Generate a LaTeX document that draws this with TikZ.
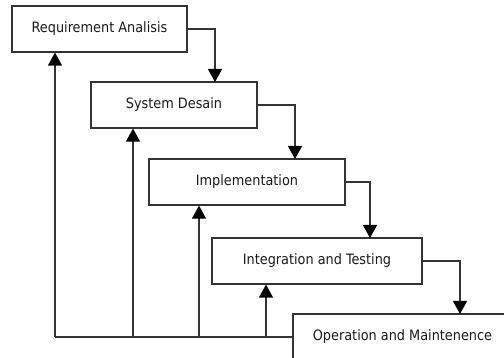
\documentclass[tikz,border=0pt]{standalone}
\usepackage{fontspec}
\setmainfont{DejaVu Sans Condensed}
\usetikzlibrary{arrows.meta}
\begin{document}
\begin{tikzpicture}[x=1pt,y=-1pt,
  stage/.style={draw=black!80, line width=1.2pt, fill=white, inner sep=0pt,
    font=\fontsize{14.3}{16}\selectfont, text=black!90},
  link/.style={draw=black!80, line width=1.2pt, -{Triangle[width=14pt,length=13pt,color=black]}},
  plain/.style={draw=black!80, line width=1.2pt}]
\useasboundingbox (0,0) rectangle (504,358);
\clip (0,0) rectangle (504,358);
\node[stage, minimum width=175pt, minimum height=46pt] (r1) at (99.5,29) {Requirement Analisis};
\node[stage, minimum width=166pt, minimum height=46pt] (r2) at (174,105) {System Desain};
\node[stage, minimum width=196pt, minimum height=46pt] (r3) at (247,182) {Implementation};
\node[stage, minimum width=210pt, minimum height=46pt] (r4) at (317,261) {Integration and Testing};
\node[stage, minimum width=219pt, minimum height=46pt] (r5) at (402.5,337) {Operation and Maintenence};
% forward flow
\coordinate (d1) at (215,82);
\coordinate (d2) at (295,159);
\coordinate (d3) at (370,238);
\coordinate (d4) at (460,314);
\draw[link] (r1.east) -| (d1);
\draw[link] (r2.east) -| (d2);
\draw[link] (r3.east) -| (d3);
\draw[link] (r4.east) -| (d4);
% feedback
\coordinate (b1) at (55,337);
\coordinate (b2) at (133,337);
\coordinate (b3) at (199,337);
\coordinate (b4) at (266,337);
\draw[plain] (r5.west) -- (b1);
\draw[link] (b1) -- (b1 |- r1.south);
\draw[link] (b2) -- (b2 |- r2.south);
\draw[link] (b3) -- (b3 |- r3.south);
\draw[link] (b4) -- (b4 |- r4.south);
\end{tikzpicture}
\end{document}
